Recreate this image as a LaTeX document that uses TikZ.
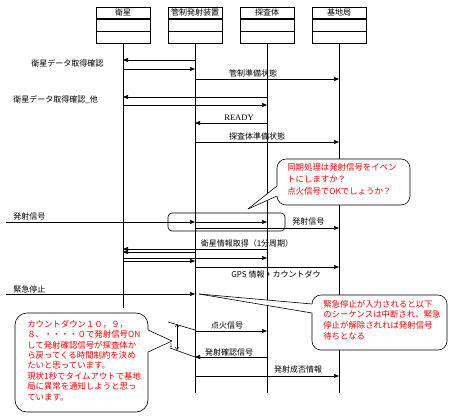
\documentclass[tikz,border=0pt]{standalone}
\usepackage{fontspec}
\newfontfamily\jp{Noto Sans CJK JP}
\newfontfamily\serifr{Liberation Serif}
\usetikzlibrary{arrows.meta,calc,positioning}
\definecolor{noteRed}{RGB}{255,0,0}
\begin{document}
\begin{tikzpicture}[x=1pt,y=-1pt,line width=0.6pt,
  msg/.style={-{Triangle[length=5pt,width=4pt]}},
  lbl/.style={font=\jp\fontsize{8}{9}\selectfont,inner sep=0pt},
  headbox/.style={draw,minimum width=54pt,minimum height=11.67pt,inner sep=0pt,font=\jp\fontsize{8}{9}\selectfont},
  bubble/.style={draw,fill=white,rounded corners=9pt},
  note/.style={font=\jp\fontsize{8.4}{#1}\selectfont,text=noteRed,align=left,inner sep=0pt,anchor=north west}]
\useasboundingbox (0,0) rectangle (450,416);

% headers
\node[headbox] (h1) at (123,12.8) {衛星};
\node[headbox,below=0pt of h1] (h1m) {};
\node[headbox,below=0pt of h1m] (h1b) {};
\node[headbox] (h2) at (195,12.8) {管制発射装置};
\node[headbox,below=0pt of h2] (h2m) {};
\node[headbox,below=0pt of h2m] (h2b) {};
\node[headbox] (h3) at (267,12.8) {探査体};
\node[headbox,below=0pt of h3] (h3m) {};
\node[headbox,below=0pt of h3m] (h3b) {};
\node[headbox] (h4) at (339,12.8) {基地局};
\node[headbox,below=0pt of h4] (h4m) {};
\node[headbox,below=0pt of h4m] (h4b) {};

% lifelines
\coordinate (e1) at (123,308);
\coordinate (e2) at (195,393);
\coordinate (e3) at (267,393);
\coordinate (e4) at (339,393);
\draw (h1b.south) -- (e1);
\draw (h2b.south) -- (e2);
\draw (h3b.south) -- (e3);
\draw (h4b.south) -- (e4);

% messages
\draw[msg] (h2b |- 0,60) -- (h1b |- 0,60);
\node[lbl,anchor=west] (t1) at (31,63) {衛星データ取得確認};
\draw[msg] (h1b |- 0,69) -- (h2b |- 0,69);
\draw[msg] (h2b |- 0,79) -- (h4b |- 0,79);
\node[lbl] (t2) at (253,73) {管制準備状態};
\draw[msg] (h3b |- 0,97) -- (h1b |- 0,97);
\node[lbl,anchor=west] (t3) at (13,100) {衛星データ取得確認\_他};
\draw[msg] (h1b |- 0,105) -- (h3b |- 0,105);
\draw[msg] (h3b |- 0,123) -- (h2b |- 0,123);
\node[lbl,font=\serifr\fontsize{8.5}{9}\selectfont] (t4) at (239,118) {READY};
\draw[msg] (h2b |- 0,142) -- (h4b |- 0,142);
\node[lbl] (t5) at (257,136) {探査体準備状態};

\coordinate (src1) at (6,222);
\draw[msg] (src1) -- (h2b |- 0,222);
\draw[msg] (h2b |- 0,222) -- (h3b |- 0,222);
\node[lbl,anchor=west] (t6) at (13,216) {発射信号};
\draw[msg] (h2b |- 0,228) -- (h4b |- 0,228);
\node[lbl,anchor=west] (t7) at (292,221) {発射信号};
\node[draw,rounded corners=4pt,minimum width=117pt,minimum height=18pt,inner sep=0pt] (frame) at (226.5,222) {};

\node[lbl] (t8) at (247,243) {衛星情報取得（1分周期）};
\draw[msg] (h3b |- 0,249) -- (h1b |- 0,249);
\draw[msg] (h2b |- 0,252) -- (h1b |- 0,252);
\draw[msg] (h1b |- 0,258) -- (h3b |- 0,258);
\draw[msg] (h1b |- 0,261) -- (h2b |- 0,261);
\draw[msg] (h2b |- 0,267) -- (h4b |- 0,267);
\node[lbl] (t9) at (276,274) {GPS 情報 + カウントダウ};

\coordinate (src2) at (6,294);
\draw[msg] (src2) -- (h2b |- 0,294);
\node[lbl,anchor=west] (t10) at (13,289) {緊急停止};

\draw[msg] (h2b |- 0,331) -- (h3b |- 0,331);
\node[lbl] (t11) at (227,325) {点火信号};
\draw[msg] (h3b |- 0,357) -- (h2b |- 0,357);
\node[lbl] (t12) at (229,352) {発射確認信号};
\draw[msg] (h2b |- 0,376) -- (h4b |- 0,376);
\node[lbl] (t13) at (298,369) {発射成否情報};

% timing bracket
\coordinate (k1) at (168,322);
\coordinate (k2) at (170,348);
\draw (k1) -- (h2b |- 0,330);
\draw (k2) -- (h2b |- 0,357);
\coordinate (v1) at (177,324);
\coordinate (v2) at (177,350);
\draw[{Straight Barb[length=2.5pt,width=4pt]}-{Straight Barb[length=2.5pt,width=4pt]},line width=0.5pt] (v1) -- (v2);
\node[lbl,font=\jp\fontsize{5}{6}\selectfont] (t14) at (171,346) {1};

% bubble 1
\node[bubble,minimum width=133pt,minimum height=46pt,inner sep=0pt] (b1) at (343.5,182) {};
\coordinate (p1t) at (248,209);
\coordinate (p1a) at (277,186);
\coordinate (p1b) at (277,196);
\fill[white] (p1t) -- ($(p1t)!1.25!(p1a)$) -- ($(p1t)!1.25!(p1b)$) -- cycle;
\draw (p1t) -- (p1a);
\draw (p1t) -- (p1b);
\node[note=12pt] (n1) at (287,163.6) {同期処理は発射信号をイベン\\トにしますか？\\点火信号でOKでしょうか？};

% bubble 2
\node[bubble,minimum width=135pt,minimum height=55pt,inner sep=0pt] (b2) at (379.5,322.5) {};
\coordinate (p2t) at (199,294);
\coordinate (p2a) at (312,304);
\coordinate (p2b) at (312,313);
\fill[white] (p2t) -- ($(p2t)!1.06!(p2a)$) -- ($(p2t)!1.06!(p2b)$) -- cycle;
\draw (p2t) -- (p2a);
\draw (p2t) -- (p2b);
\node[note=10.6pt] (n2) at (323,299.8) {緊急停止が入力されると以下\\のシーケンスは中断され、緊急\\停止が解除されれば発射信号\\待ちとなる};

% bubble 3
\node[bubble,rounded corners=12pt,minimum width=133pt,minimum height=99pt,inner sep=0pt] (b3) at (81.5,362.5) {};
\coordinate (p3t) at (172,341);
\coordinate (p3a) at (148,330);
\coordinate (p3b) at (148,352);
\fill[white] (p3t) -- ($(p3t)!1.25!(p3a)$) -- ($(p3t)!1.25!(p3b)$) -- cycle;
\draw (p3t) -- (p3a);
\draw (p3t) -- (p3b);
\node[note=10.4pt] (n3) at (27,319.8) {カウントダウン１０，９，\\８、・・・・０で発射信号ON\\して発射確認信号が探査体か\\ら戻ってくる時間制約を決め\\たいと思っています。\\現状1秒でタイムアウトで基地\\局に異常を通知しようと思っ\\ています。};
\end{tikzpicture}
\end{document}
